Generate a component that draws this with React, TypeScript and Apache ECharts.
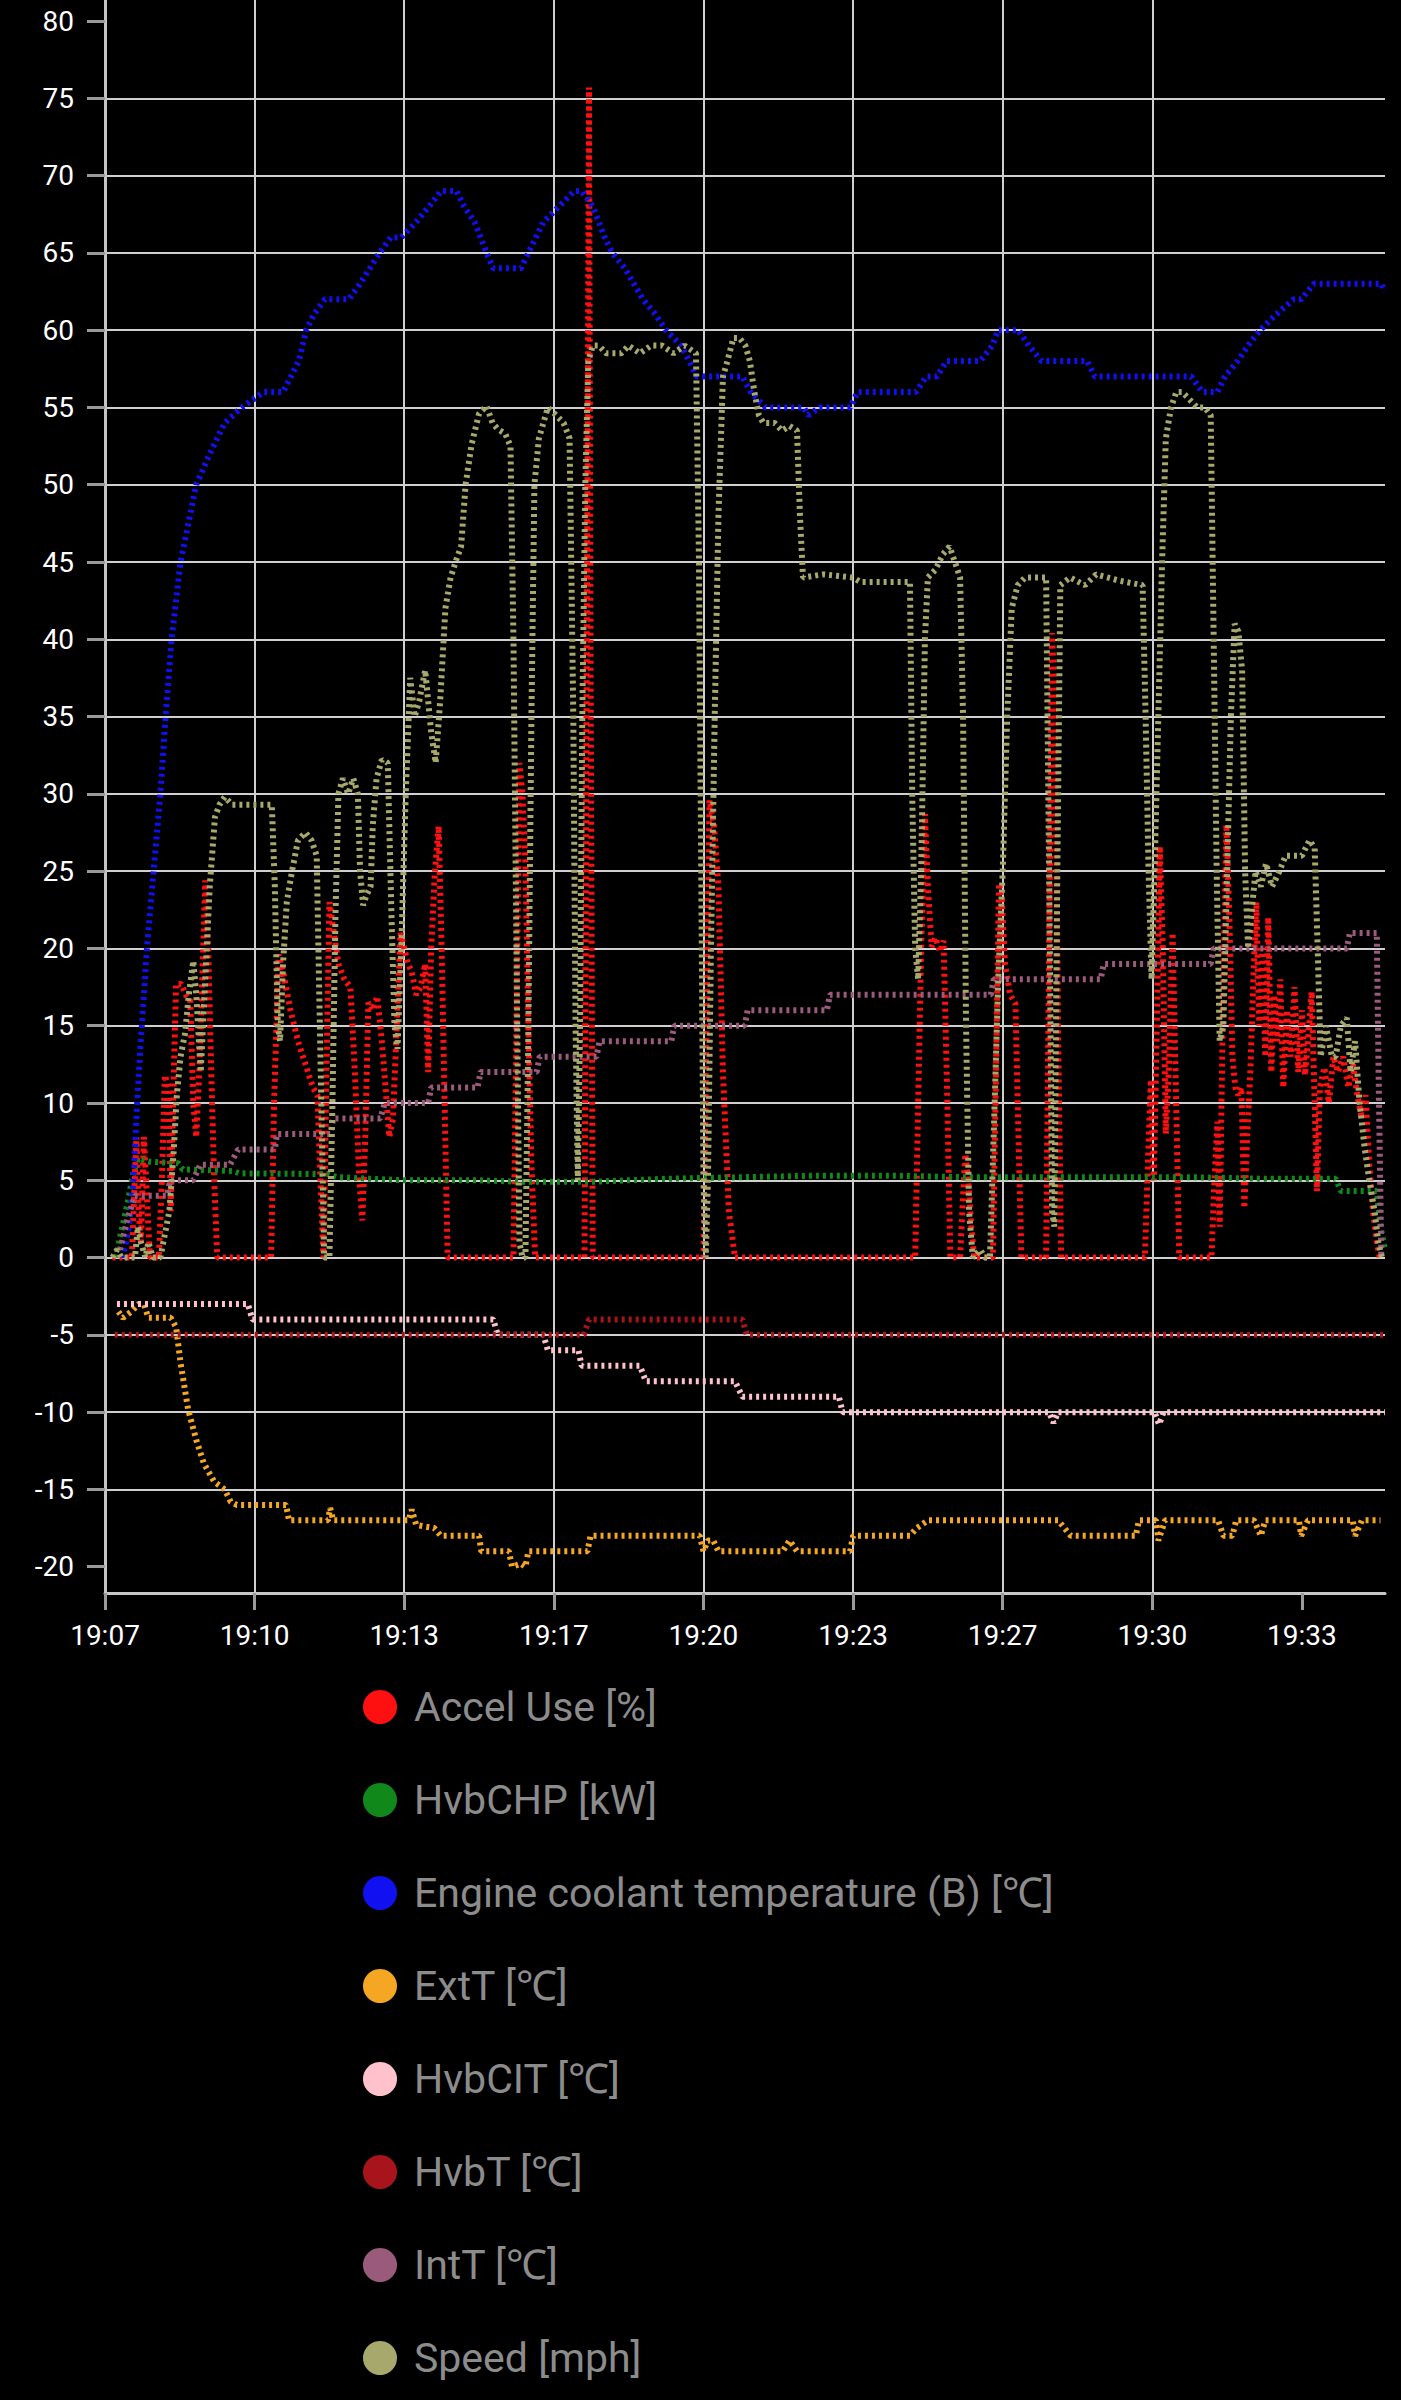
import React, { useEffect, useRef } from "react";
import * as echarts from "echarts";

// x values are seconds after 19:07:00
const xTickLabels = ["19:07", "19:10", "19:13", "19:17", "19:20", "19:23", "19:27", "19:30", "19:33"];
const xTickStep = 200;
const xMax = 1711;
const yTickValues = [-20, -15, -10, -5, 0, 5, 10, 15, 20, 25, 30, 35, 40, 45, 50, 55, 60, 65, 70, 75, 80];
const yMin = -21.7;
const yMax = 81.36;

const seriesNames = [
  "Accel Use [%]",
  "HvbCHP [kW]",
  "Engine coolant temperature (B) [℃]",
  "ExtT [℃]",
  "HvbCIT [℃]",
  "HvbT [℃]",
  "IntT [℃]",
  "Speed [mph]",
];
const seriesColors = ["#ff1010", "#11881a", "#1010f0", "#f5a623", "#ffc2cc", "#a8141c", "#9a5a7c", "#a6a86c"];

const accelUse = [
  [10, 0], [36, 0], [39, 4], [42, 7.8], [45, 3], [48, 1], [52, 7.8], [56, 4], [60, 0], [72, 0], [76, 5], [80, 11.8], [85, 11], [88, 3], [91, 10], [95, 17.7], [102, 17.7], [108, 17], [114, 16.6], [118, 10], [122, 7.8], [126, 12], [130, 18], [134, 24.4], [138, 20], [142, 12], [146, 5], [150, 0],
  [222, 0], [226, 10], [232, 19.6], [238, 18.5], [248, 16], [258, 14], [268, 12.5], [278, 11], [284, 10.5], [288, 5], [292, 0], [296, 12], [300, 23], [306, 21], [312, 19], [320, 18], [328, 17.5], [334, 12], [340, 5], [344, 2.4], [348, 8], [352, 16.5], [358, 16], [364, 16.9], [370, 14], [375, 11], [380, 7.8], [385, 9], [390, 15], [395, 21], [400, 20], [405, 19], [410, 18.5], [416, 17], [422, 17.5], [428, 19], [432, 12], [436, 20], [441, 25], [446, 27.9], [450, 20], [454, 10], [458, 0],
  [546, 0], [550, 15], [554, 32], [558, 30], [562, 25.5], [566, 15], [570, 6], [575, 0],
  [641, 0], [644, 40], [647, 75.7], [649, 40], [652, 0],
  [800, 0], [804, 15], [808, 29.6], [814, 28], [820, 24], [826, 12], [834, 3], [842, 0],
  [1083, 0], [1087, 10], [1091, 20], [1096, 28.7], [1100, 24], [1105, 20.1], [1110, 20.7], [1116, 19.8], [1121, 20.5], [1126, 10], [1130, 0],
  [1143, 0], [1147, 4], [1150, 6.7], [1154, 5], [1158, 2], [1162, 0],
  [1187, 0], [1191, 12], [1195, 24.2], [1199, 23], [1203, 19], [1210, 17], [1217, 16.4], [1221, 8], [1225, 0],
  [1258, 0], [1262, 20], [1266, 40.4], [1270, 35], [1274, 15], [1278, 0],
  [1390, 0], [1394, 6], [1398, 11.5], [1402, 5], [1406, 15], [1410, 26.6], [1414, 20], [1418, 8], [1422, 12], [1427, 21], [1431, 12], [1436, 0],
  [1479, 0], [1483, 5], [1487, 8.8], [1490, 2], [1494, 15], [1499, 28], [1503, 22], [1507, 13], [1511, 11], [1515, 10.5], [1519, 11], [1523, 3.2], [1527, 8], [1531, 12], [1535, 18], [1539, 23], [1543, 15], [1547, 20], [1551, 13], [1555, 22], [1559, 12], [1563, 17], [1567, 14], [1571, 18], [1575, 11], [1580, 16], [1585, 13], [1590, 17.5], [1595, 12], [1600, 16], [1604, 11.8], [1608, 14], [1613, 17.2], [1617, 10], [1620, 4.3], [1624, 11], [1630, 12.3], [1636, 10], [1642, 13], [1648, 12], [1655, 13], [1662, 11], [1668, 12.5], [1674, 10.5], [1680, 9], [1685, 10.5], [1690, 6], [1695, 3], [1700, 1], [1704, 0],
];

const hvbCHP = [
  [15, 0], [20, 1.3], [30, 3.5], [38, 5.5], [44, 6.4], [60, 6.2], [98, 6.1], [104, 5.7], [171, 5.6], [180, 5.45], [297, 5.4], [310, 5.2], [400, 5.0], [500, 5.0], [560, 4.9], [650, 4.9], [750, 5.1], [850, 5.2], [950, 5.3], [1050, 5.3], [1150, 5.2], [1250, 5.2], [1350, 5.2], [1450, 5.2], [1550, 5.1], [1645, 5.1], [1652, 4.3], [1700, 4.3], [1705, 2], [1711, 0.5],
];

const engineCoolant = [
  [22, 0], [27, 0.7], [32, 2], [38, 5], [43, 10], [47, 13.4], [52, 17], [56, 20], [65, 25], [74, 30], [81, 35], [89, 40], [101, 45], [122, 50], [140, 52], [160, 54], [183, 55], [212, 56], [238, 56], [259, 58], [269, 60], [279, 61], [294, 62], [326, 62], [341, 63], [367, 65], [382, 66], [396, 66], [416, 67], [433, 68], [449, 69], [470, 69], [480, 68], [494, 67], [510, 65], [519, 64], [556, 64], [566, 65], [576, 66], [586, 67], [607, 68], [627, 69], [637, 69], [652, 68], [668, 66], [678, 65], [695, 64], [719, 62], [736, 61], [750, 60], [770, 59], [781, 58], [791, 57], [852, 57], [863, 56], [883, 55], [934, 55], [940, 54.5], [955, 55], [996, 55], [1006, 56], [1084, 56], [1098, 57], [1112, 57], [1125, 58], [1170, 58], [1186, 59], [1194, 60], [1221, 60], [1235, 59], [1252, 58], [1313, 58], [1323, 57], [1452, 57], [1467, 56], [1487, 56], [1497, 57], [1514, 58], [1528, 59], [1544, 60], [1565, 61], [1589, 62], [1599, 62], [1616, 63], [1706, 63], [1711, 62.5],
];

const extT = [
  [18, -3.5], [24, -3.9], [35, -3.5], [45, -3], [52, -3], [58, -3.9], [88, -3.9], [95, -4.5], [101, -6.8], [111, -9.8], [122, -11.8], [132, -13.3], [146, -14.5], [160, -15], [168, -15.8], [176, -16], [242, -16], [246, -17], [298, -17], [301, -16.2], [305, -17], [406, -17], [410, -16.3], [416, -17.3], [440, -17.5], [449, -18], [500, -18], [503, -19], [540, -19], [544, -20], [556, -19.8], [562, -20], [566, -19], [645, -19], [649, -18], [795, -18], [800, -19], [806, -18.3], [813, -18.3], [820, -19], [906, -19], [915, -18.3], [925, -19], [996, -19], [1000, -18], [1076, -18], [1085, -17.5], [1100, -17], [1274, -17], [1291, -18], [1378, -18], [1382, -17], [1405, -17], [1408, -18.3], [1417, -17], [1488, -17], [1495, -18], [1507, -18], [1512, -17], [1536, -17], [1545, -18], [1551, -17], [1596, -17], [1599, -18], [1608, -17], [1668, -17], [1671, -18], [1680, -17], [1705, -17],
];

const hvbCIT = [
  [16, -3], [191, -3], [197, -4], [519, -4], [525, -5], [586, -5], [592, -6], [633, -6], [637, -7], [715, -7], [723, -8], [842, -8], [852, -9], [981, -9], [986, -10], [1262, -10], [1268, -10.7], [1274, -10], [1403, -10], [1409, -10.8], [1415, -10], [1711, -10],
];

const hvbT = [
  [13, -5], [640, -5], [647, -4], [852, -4], [858, -5], [1711, -5],
];

const intT = [
  [20, 0.5], [30, 2.5], [40, 4], [83, 4], [87, 5], [118, 5], [127, 6], [167, 6], [178, 7], [227, 7], [230, 8], [301, 8], [305, 9], [368, 9], [374, 10], [432, 10], [436, 11], [498, 11], [502, 12], [577, 12], [581, 13], [657, 13], [661, 14], [757, 14], [761, 15], [855, 15], [859, 16], [965, 16], [969, 17], [1184, 17], [1188, 18], [1331, 18], [1335, 19], [1478, 19], [1482, 20], [1660, 20], [1664, 21], [1700, 21], [1703, 10], [1706, 0.2],
];

const speed = [
  [10, 0], [16, 0.5], [22, 0], [40, 0], [44, 2], [48, 1], [54, 0], [58, 1], [64, 0], [74, 0], [80, 1.5], [86, 3], [92, 7], [96, 10.5], [101, 13], [107, 14.5], [112, 17], [118, 19.2], [122, 17], [128, 12], [134, 18], [140, 24], [147, 28.5], [153, 29.3], [160, 29.8], [170, 29.3], [223, 29.3],
  [227, 24], [231, 15], [234, 14], [238, 19], [243, 23], [250, 25], [258, 27], [268, 27.5], [276, 27], [283, 26], [288, 13], [293, 0], [300, 0],
  [304, 10], [308, 22], [312, 30], [318, 31], [325, 30], [332, 31], [338, 30], [341, 25], [345, 22.8], [350, 23.5], [355, 24], [358, 28], [363, 31], [370, 32.2], [378, 32], [383, 22], [387, 15], [391, 13.5], [396, 20], [402, 30], [408, 37.5], [414, 35], [420, 36], [428, 38], [436, 34], [442, 32], [448, 36], [455, 42], [462, 44], [470, 45.2], [476, 46], [482, 50], [490, 52.6], [500, 54.6], [510, 55.1], [518, 54], [525, 53.6], [535, 53.3], [542, 52.5],
  [546, 40], [550, 20], [554, 1], [558, 0], [562, 0], [566, 15], [570, 35], [574, 50], [580, 53], [592, 55], [603, 54.5], [613, 54], [621, 53],
  [626, 35], [629, 15], [632, 5], [635, 15], [638, 35], [642, 50], [646, 58], [652, 59], [660, 59], [670, 58.5], [690, 58.5], [700, 59], [715, 58.5], [730, 59], [745, 59], [760, 58.5], [775, 59], [790, 58.5],
  [794, 45], [797, 25], [800, 5], [803, 0], [806, 5], [810, 20], [815, 35], [820, 48], [826, 57], [832, 58], [840, 59.5], [848, 59.5], [856, 59], [862, 58], [868, 56], [874, 54.5], [880, 54], [895, 54], [905, 53.5], [915, 53.8], [925, 53.5],
  [929, 48], [933, 44], [960, 44.2], [1000, 44], [1010, 43.7], [1076, 43.7],
  [1079, 30], [1083, 20], [1087, 18], [1091, 25], [1096, 40], [1100, 44], [1110, 44.5], [1120, 45.5], [1129, 46], [1136, 45], [1143, 44],
  [1147, 35], [1151, 15], [1155, 3], [1160, 0], [1170, 0.5], [1176, 0], [1183, 0],
  [1188, 8], [1194, 18], [1200, 25], [1206, 35], [1212, 42], [1220, 43.5], [1230, 44], [1258, 44],
  [1262, 25], [1266, 3], [1269, 2], [1273, 25], [1277, 43.5], [1290, 44], [1310, 43.5], [1325, 44.2], [1340, 44], [1355, 43.8], [1387, 43.5],
  [1391, 35], [1395, 25], [1399, 18], [1403, 25], [1408, 35], [1413, 45], [1418, 53], [1425, 55], [1432, 56], [1440, 56], [1450, 55.5], [1460, 55], [1470, 55], [1478, 54.5],
  [1482, 40], [1486, 25], [1490, 14], [1495, 15], [1500, 25], [1505, 35], [1510, 41], [1515, 40.5], [1520, 38], [1524, 25], [1528, 20], [1532, 22], [1538, 25], [1545, 24], [1552, 25.5], [1560, 24], [1570, 25], [1578, 26], [1590, 26], [1600, 26], [1610, 27], [1617, 26.5],
  [1621, 20], [1625, 13], [1632, 15], [1640, 13], [1645, 13], [1652, 15], [1660, 15.5], [1665, 12], [1671, 14], [1677, 10], [1684, 7], [1690, 5], [1697, 3], [1702, 1], [1707, 0],
];

const seriesData = [accelUse, hvbCHP, engineCoolant, extT, hvbCIT, hvbT, intT, speed];

export default function App() {
  const ref = useRef<HTMLDivElement>(null);

  useEffect(() => {
    document.body.style.margin = "0";
    document.body.style.background = "#000";
    if (!ref.current) return;
    const chart = echarts.init(ref.current, null, { renderer: "svg" });
    const font = "Roboto";
    chart.setOption({
      animation: false,
      backgroundColor: "#000000",
      grid: { left: 105, right: 16, top: 0, bottom: 807, containLabel: false },
      legend: {
        orient: "vertical",
        left: 363,
        top: 1686,
        padding: 0,
        itemWidth: 58,
        itemHeight: 34,
        itemGap: 51,
        icon: "circle",
        itemStyle: { borderWidth: 0 },
        textStyle: { color: "#8c8c8c", fontSize: 41, fontFamily: font, lineHeight: 42 },
        data: seriesNames,
      },
      xAxis: {
        type: "value",
        min: 0,
        max: xMax,
        interval: xTickStep,
        axisLine: { show: true, onZero: false, lineStyle: { color: "#c8c8c8", width: 3 } },
        axisTick: {
          show: true,
          length: 17,
          lineStyle: { color: "#9a9a9a", width: 3 },
          customValues: xTickLabels.map((_, i) => i * xTickStep),
        },
        axisLabel: {
          color: "#ffffff",
          fontSize: 28,
          fontFamily: font,
          margin: 28,
          showMaxLabel: false,
          formatter: (v: number) => {
            const i = Math.round(v / xTickStep);
            return Math.abs(v - i * xTickStep) < 1e-6 && xTickLabels[i] ? xTickLabels[i] : "";
          },
        },
        splitLine: { show: true, showMaxLine: false, lineStyle: { color: "#cfcfcf", width: 2 } },
      },
      yAxis: {
        type: "value",
        min: yMin,
        max: yMax,
        minInterval: 5,
        maxInterval: 5,
        splitNumber: 20,
        axisLine: { show: true, onZero: false, lineStyle: { color: "#c4c4c4", width: 3 } },
        axisTick: {
          show: true,
          length: 18,
          lineStyle: { color: "#9a9a9a", width: 3 },
          customValues: yTickValues,
        },
        axisLabel: {
          color: "#ffffff",
          fontSize: 28,
          fontFamily: font,
          margin: 31,
          showMinLabel: false,
          showMaxLabel: false,
          formatter: (v: number) => (yTickValues.indexOf(v) >= 0 ? String(v) : ""),
        },
        splitLine: {
          show: true,
          showMinLine: false,
          showMaxLine: false,
          lineStyle: { color: "#cfcfcf", width: 2 },
        },
      },
      series: seriesNames.map((name, i) => ({
        name,
        type: "line",
        data: seriesData[i],
        color: seriesColors[i],
        showSymbol: false,
        symbol: "none",
        clip: true,
        lineStyle: { color: seriesColors[i], width: 6, type: [3, 4], cap: "butt" },
        emphasis: { disabled: true },
      })),
    });
    return () => chart.dispose();
  }, []);

  return (
    <div
      ref={ref}
      style={{ position: "absolute", left: 0, top: 0, width: 1401, height: 2400, background: "#000" }}
    />
  );
}
